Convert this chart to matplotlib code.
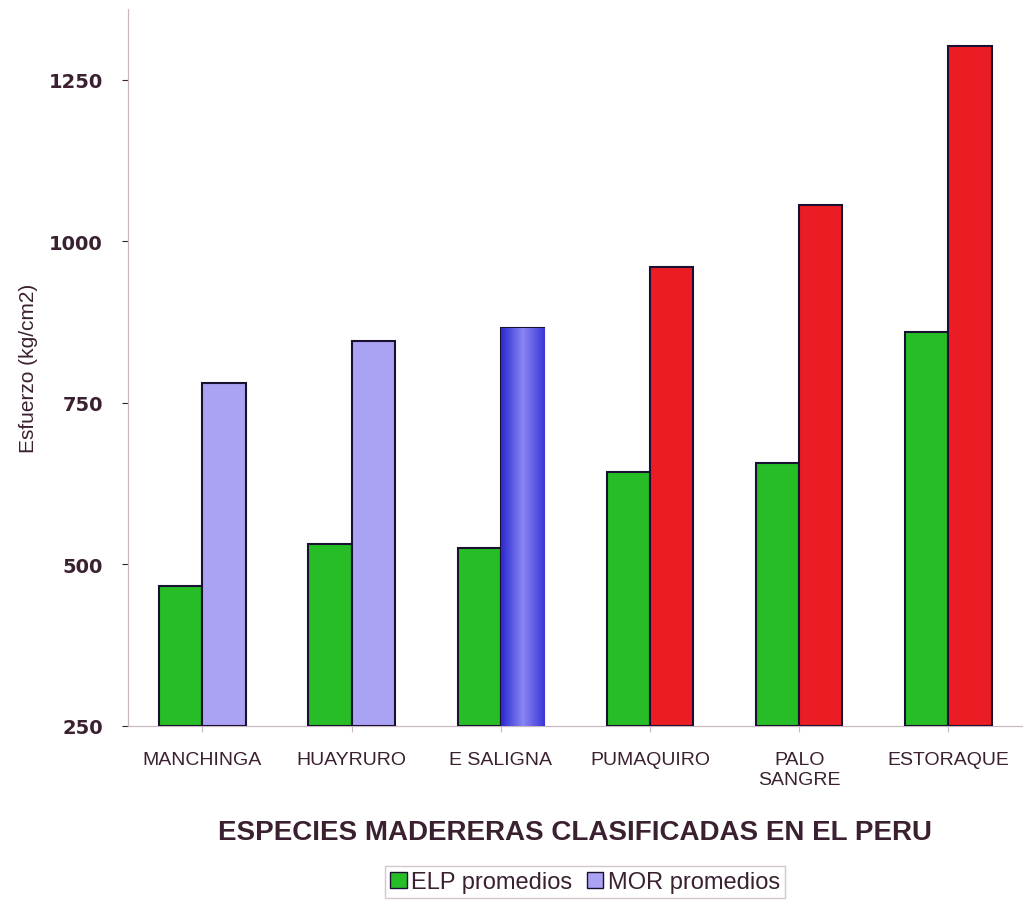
import matplotlib.pyplot as plt
import numpy as np
from matplotlib.patches import Patch
from matplotlib.colors import LinearSegmentedColormap

# data
species = ["MANCHINGA", "HUAYRURO", "E SALIGNA", "PUMAQUIRO", "PALO\nSANGRE", "ESTORAQUE"]
elp = [467, 531, 525, 643, 657, 860]
mor = [781, 846, 866, 960, 1057, 1302]
mor_colors = ["#aaa2f2", "#aaa2f2", "#4a44e0", "#ec1c24", "#ec1c24", "#ec1c24"]

text_col = "#3a2030"
plt.rcParams['font.family'] = ['Liberation Sans', 'DejaVu Sans']

fig = plt.figure(figsize=(10.23, 9.03), dpi=100)
ax = fig.add_axes([0.125, 0.195, 0.875, 0.794])

x = np.arange(len(species))
w = 0.29
base = 250
ax.bar(x - w / 2, np.array(elp) - base, w, bottom=base, color="#26bd26",
       edgecolor="#1a1030", linewidth=1.5, zorder=3)
mor_bars = ax.bar(x + w / 2, np.array(mor) - base, w, bottom=base, color=mor_colors,
                  edgecolor="#1a1030", linewidth=1.5, zorder=3)

# cylinder-like shading on the E SALIGNA bar
b = mor_bars[2]
grad = LinearSegmentedColormap.from_list("cyl", ["#2a2ad0", "#8a86f4", "#3a36d8"])
img = ax.imshow(np.linspace(0, 1, 100).reshape(1, -1), cmap=grad, aspect="auto",
                extent=[b.get_x(), b.get_x() + b.get_width(), base, base + b.get_height()],
                zorder=3.5)
img.set_clip_path(b)

ax.set_xlim(-0.5, 5.5)
ax.set_ylim(250, 1360)
ax.set_yticks([250, 500, 750, 1000, 1250])
ax.set_xticks(x)
ax.set_xticklabels(species, fontsize=14, color=text_col, linespacing=1.25)
ax.tick_params(axis="y", colors=text_col, length=4, width=0.8, pad=14)
ax.tick_params(axis="x", length=4, width=0.8, colors="#c8b8c0", labelcolor=text_col, pad=14)
for lbl in ax.get_yticklabels():
    lbl.set_fontfamily("DejaVu Sans")
    lbl.set_fontsize(14)
    lbl.set_fontweight("bold")
for s in ["top", "right"]:
    ax.spines[s].set_visible(False)
for s in ["left", "bottom"]:
    ax.spines[s].set_color("#c8b8c0")
    ax.spines[s].set_linewidth(0.9)

ax.set_ylabel("Esfuerzo (kg/cm2)", fontsize=15, color=text_col, labelpad=8,
              family=['Liberation Sans Narrow', 'Liberation Sans'])
ax.set_xlabel("ESPECIES MADERERAS CLASIFICADAS EN EL PERU", fontsize=20,
              fontweight="bold", color=text_col, labelpad=22)

handles = [Patch(facecolor="#26bd26", edgecolor="#1a1030", label="ELP promedios"),
           Patch(facecolor="#aaa2f2", edgecolor="#1a1030", label="MOR promedios")]
leg = fig.legend(handles=handles, loc="center", bbox_to_anchor=(0.572, 0.022), ncol=2,
                 fontsize=17, frameon=True, fancybox=False, handlelength=0.7,
                 handleheight=0.7, handletextpad=0.2, columnspacing=0.6,
                 borderpad=0.2, labelcolor=text_col)
leg.get_frame().set_edgecolor("#c8b8c0")

fig.savefig("out.png", dpi=100)
